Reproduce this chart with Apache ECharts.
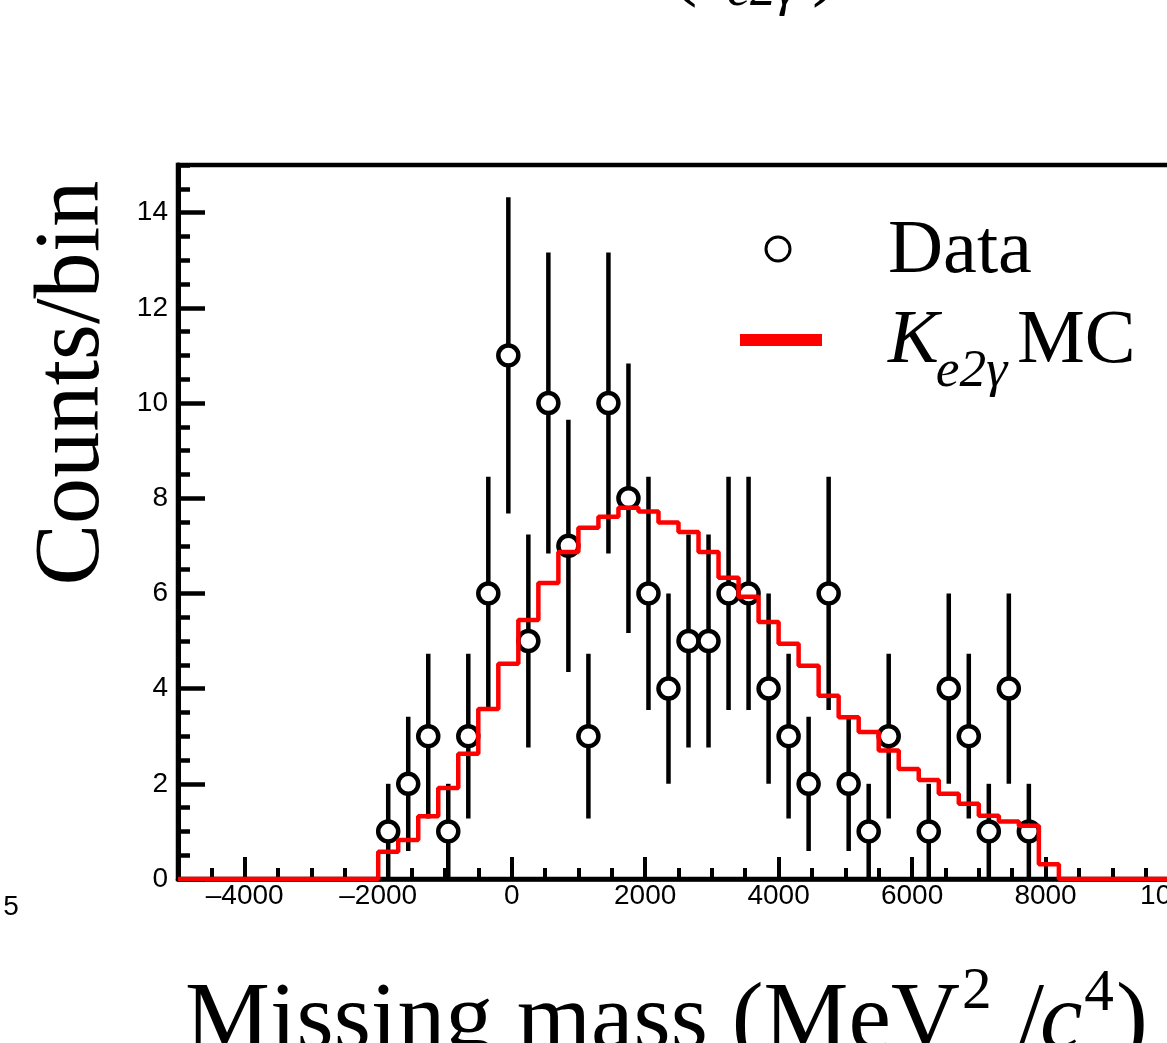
<!DOCTYPE html>
<html><head><meta charset="utf-8">
<script src="https://cdn.jsdelivr.net/npm/echarts@6/dist/echarts.min.js"></script>
<style>
html,body{margin:0;padding:0;overflow:hidden;background:#fff;width:1167px;height:1043px}
#chart{position:absolute;left:0;top:0;width:1400px;height:1043px}
</style>
</head><body><div id="chart"></div>
<script>
// ---- axis ticks ----
const xTickValues = [-4000, -2000, 0, 2000, 4000, 6000, 8000, 10000];
const xTickLabels = ['\u20134000', '\u20132000', '0', '2000', '4000', '6000', '8000', '10000'];
const yTickValues = [0, 2, 4, 6, 8, 10, 12, 14];
const yTickLabels = ['0', '2', '4', '6', '8', '10', '12', '14'];

// ---- data points (bin centres, counts, Poisson errors) ----
const dataX = [-1850, -1550, -1250, -950, -650, -350, -50, 250, 550, 850, 1150, 1450, 1750, 2050,
  2350, 2650, 2950, 3250, 3550, 3850, 4150, 4450, 4750, 5050, 5350, 5650, 6250, 6550, 6850, 7150, 7450, 7750];
const dataY = [1, 2, 3, 1, 3, 6, 11, 5, 10, 7, 3, 10, 8, 6,
  4, 5, 5, 6, 6, 4, 3, 2, 6, 2, 1, 3, 1, 4, 3, 1, 4, 1];
const dataErr = [1, 1.41, 1.73, 1, 1.73, 2.45, 3.32, 2.24, 3.16, 2.65, 1.73, 3.16, 2.83, 2.45,
  2, 2.24, 2.24, 2.45, 2.45, 2, 1.73, 1.41, 2.45, 1.41, 1, 1.73, 1, 2, 1.73, 1, 2, 1];

// ---- MC histogram (left bin edges and contents) ----
const mcEdges = [-5000, -2000, -1700, -1400, -1100, -800, -500, -200, 100, 400, 700, 1000, 1300, 1600,
  1900, 2200, 2500, 2800, 3100, 3400, 3700, 4000, 4300, 4600, 4900, 5200, 5500, 5800, 6100,
  6400, 6700, 7000, 7300, 7600, 7900, 8200, 10000];
const mcVals = [0, 0.57, 0.82, 1.32, 1.91, 2.63, 3.57, 4.52, 5.44, 6.22, 6.87, 7.38, 7.61, 7.80,
  7.72, 7.49, 7.29, 6.87, 6.33, 5.93, 5.40, 4.94, 4.48, 3.85, 3.40, 3.09, 2.70, 2.31, 2.08,
  1.79, 1.58, 1.33, 1.21, 1.12, 0.31, 0, 0];

const SERIF = '"Liberation Serif", "Times New Roman", serif';
const SANS = '"Liberation Sans", Arial, Helvetica, sans-serif';

const mctx = document.createElement('canvas').getContext('2d');
function font(size, style) { return (style || 'normal') + ' normal ' + size + 'px ' + SERIF; }
function tw(text, size, style) { mctx.font = font(size, style); mctx.textBaseline = 'alphabetic'; return mctx.measureText(text).width; }
function boff(size, style, fam) {
  mctx.font = (style || 'normal') + ' normal ' + size + 'px ' + (fam || SERIF);
  mctx.textBaseline = 'middle';
  const m = mctx.measureText('H');
  mctx.textBaseline = 'alphabetic';
  return m.actualBoundingBoxDescent;
}
function txt(left, baseline, text, size, style, extra) {
  return Object.assign({
    type: 'text', x: left, y: baseline - boff(size, style), silent: true,
    style: { text: text, font: font(size, style), fill: '#000', align: 'left', verticalAlign: 'middle' }
  }, extra || {});
}

const chart = echarts.init(document.getElementById('chart'), null, { renderer: 'canvas' });

const errData = dataX.map((x, i) => [x, dataY[i] - dataErr[i], dataY[i] + dataErr[i]]);
const ptData = dataX.map((x, i) => [x, dataY[i]]);
const mcData = mcEdges.map((x, i) => [x, mcVals[i]]);

// font sizes fitted to the reference text widths
const yTitleSize = 405 / tw('Counts/bin', 100) * 100;
const xTitleSize = 775 / tw('Missing mass (MeV', 100) * 100;
const legSize = 144 / tw('Data', 100) * 100;
const supSize = xTitleSize * 0.62;
const subSize = legSize * 0.7;

const xT = 185, xB = 1048;
const xPiece1W = tw('Missing mass (MeV', xTitleSize);
const x2 = xT + xPiece1W + 2;
const xSlash = x2 + tw('2', supSize) + 2;
const xC = xSlash + tw(' /', xTitleSize) - 4;
const x4 = xC + tw('c', xTitleSize, 'italic') + 2;
const xP = x4 + tw('4', supSize) + 2;

const kW = tw('K', legSize, 'italic');

const graphics = [
  // y title
  {
    type: 'text', x: 74, y: 383, rotation: Math.PI / 2, silent: true,
    style: { text: 'Counts/bin', font: font(yTitleSize), fill: '#000', align: 'center', verticalAlign: 'middle' }
  },
  // x title
  txt(xT, xB, 'Missing mass (MeV', xTitleSize),
  txt(x2, xB - 40, '2', supSize),
  txt(xSlash, xB, ' /', xTitleSize),
  txt(xC, xB, 'c', xTitleSize, 'italic'),
  txt(x4, xB - 38, '4', supSize),
  txt(xP, xB, ')', xTitleSize),
  // title (mostly above the visible area)
  txt(670, -10, '(', 82),
  txt(688, -10, 'K', 82, 'italic'),
  txt(727, 5, 'e2\u03b3', 52, 'italic'),
  txt(812, -10, ')', 82),
  // stray label from neighbouring panel
  {
    type: 'text', x: 11, y: 907, silent: true,
    style: { text: '5', font: 'normal normal 28px ' + SANS, fill: '#000', align: 'center', verticalAlign: 'middle' }
  },
  // legend
  { type: 'circle', shape: { cx: 778, cy: 249, r: 12 }, style: { fill: '#fff', stroke: '#000', lineWidth: 3 }, silent: true },
  { type: 'rect', shape: { x: 740, y: 334, width: 82, height: 12 }, style: { fill: '#ff0000' }, silent: true },
  txt(888, 272, 'Data', legSize),
  txt(888, 362, 'K', legSize, 'italic'),
  txt(888 + kW - 3, 386, 'e2\u03b3', subSize, 'italic'),
  txt(1017, 362, 'MC', legSize)
];

const gridRect = { left: 178, top: 165, width: 1001, height: 714 };

chart.setOption({
  animation: false,
  backgroundColor: '#fff',
  grid: [
    Object.assign({ show: true, borderColor: '#000', borderWidth: 4.5, backgroundColor: 'transparent', containLabel: false }, gridRect),
    Object.assign({ show: false, containLabel: false }, gridRect)
  ],
  xAxis: [
    {
      type: 'value', gridIndex: 0, min: -5000, max: 10000, position: 'bottom',
      splitLine: { show: false },
      axisLine: { show: true, onZero: false, lineStyle: { color: '#000', width: 4.5 } },
      axisTick: { show: true, inside: true, length: 22, customValues: xTickValues, lineStyle: { color: '#000', width: 4 } },
      axisLabel: {
        show: true, customValues: xTickValues, margin: 3, color: '#000', fontSize: 28, fontFamily: SANS,
        formatter: v => xTickLabels[xTickValues.indexOf(v)]
      }
    },
    {
      type: 'value', gridIndex: 1, min: -5000, max: 10000, interval: 500, position: 'bottom',
      splitLine: { show: false },
      axisLine: { show: false, onZero: false },
      axisTick: { show: true, inside: true, length: 11, lineStyle: { color: '#000', width: 4 } },
      axisLabel: { show: false }
    }
  ],
  yAxis: [
    {
      type: 'value', gridIndex: 0, min: 0, max: 15, position: 'left',
      splitLine: { show: false },
      axisLine: { show: true, onZero: false, lineStyle: { color: '#000', width: 5 } },
      axisTick: { show: true, inside: true, length: 27, customValues: yTickValues, lineStyle: { color: '#000', width: 4.5 } },
      axisLabel: {
        show: true, customValues: yTickValues, margin: 10, color: '#000', fontSize: 28, fontFamily: SANS,
        formatter: v => yTickLabels[yTickValues.indexOf(v)]
      }
    },
    {
      type: 'value', gridIndex: 1, min: 0, max: 15, interval: 0.5, position: 'left',
      splitLine: { show: false },
      axisLine: { show: false, onZero: false },
      axisTick: { show: true, inside: true, length: 12, lineStyle: { color: '#000', width: 4.5 } },
      axisLabel: { show: false }
    }
  ],
  series: [
    {
      name: 'Data errors', type: 'custom', xAxisIndex: 0, yAxisIndex: 0, z: 2, silent: true,
      data: errData,
      renderItem: function (params, api) {
        const p1 = api.coord([api.value(0), api.value(1)]);
        const p2 = api.coord([api.value(0), api.value(2)]);
        return { type: 'line', shape: { x1: p1[0], y1: p1[1], x2: p2[0], y2: p2[1] }, style: { stroke: '#000', lineWidth: 4.5 } };
      }
    },
    {
      name: 'Data', type: 'scatter', xAxisIndex: 0, yAxisIndex: 0, z: 3,
      symbol: 'circle', symbolSize: 20,
      itemStyle: { color: '#fff', borderColor: '#000', borderWidth: 4.5, opacity: 1 },
      data: ptData
    },
    {
      name: 'K_e2\u03b3 MC', type: 'line', xAxisIndex: 0, yAxisIndex: 0, z: 4,
      step: 'end', showSymbol: false, symbol: 'none',
      lineStyle: { color: '#ff0000', width: 4.5 },
      data: mcData
    }
  ],
  graphic: graphics
});
</script>
</body></html>
